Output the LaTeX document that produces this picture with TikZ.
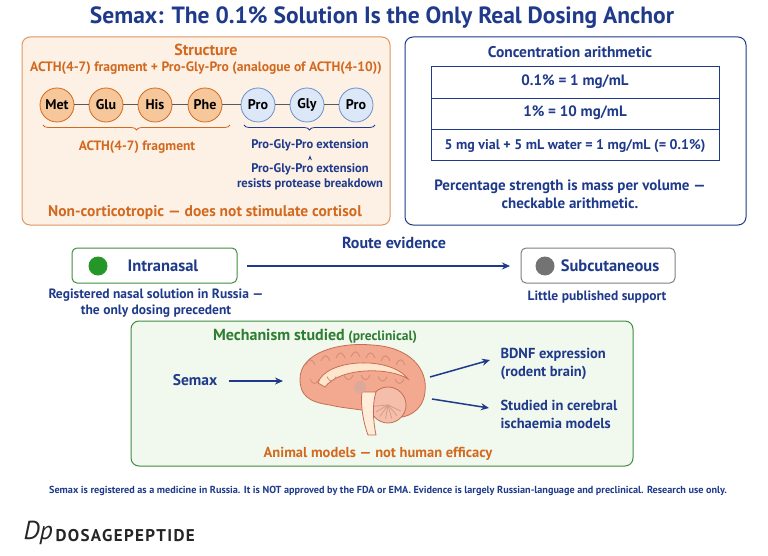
\documentclass[tikz,border=0pt]{standalone}
\usepackage{fontspec}
\setmainfont{PT Sans}
\usetikzlibrary{decorations.pathreplacing,arrows.meta}
\definecolor{navy}{HTML}{1F3A8A}
\definecolor{org}{HTML}{D2691E}
\definecolor{orgfill}{HTML}{FDF1E6}
\definecolor{aa}{HTML}{F7C79C}
\definecolor{bb}{HTML}{DCE8F8}
\definecolor{bbd}{HTML}{6C8FCB}
\definecolor{grn}{HTML}{3E8E3E}
\definecolor{grnfill}{HTML}{F1F8EE}
\definecolor{dgrn}{HTML}{2E7D32}
\definecolor{brain}{HTML}{F2A98F}
\definecolor{brainD}{HTML}{C56E55}
\newcommand{\fsz}[1]{\fontsize{#1}{#1}\selectfont}
\tikzset{
 aao/.style={circle,draw=org,fill=aa,line width=0.8pt,minimum size=34pt,inner sep=0pt,font=\bfseries\fsz{14}},
 aab/.style={circle,draw=bbd,fill=bb,line width=0.8pt,minimum size=34pt,inner sep=0pt,font=\bfseries\fsz{14}},
 panel/.style={rounded corners=8pt,line width=1pt},
 tx/.style={font=\bfseries\fontsize{14}{17}\selectfont,align=center},
 arr/.style={-{Stealth[length=8pt,width=7pt]},line width=1.5pt,navy},
}
\begin{document}
\begin{tikzpicture}[x=1pt,y=-1pt]
\useasboundingbox[fill=white] (0,0) rectangle (768,556);
\node[font=\bfseries\fsz{23.5},text=navy] (title) at (382,18) {Semax: The 0.1\% Solution Is the Only Real Dosing Anchor};
% structure
\draw[panel,draw=org!70,fill=orgfill] (22,37) rectangle (390,225);
\node[tx,text=org,font=\bfseries\fsz{16}] (st) at (206,50) {Structure};
\node[tx,text=org,font=\bfseries\fsz{13.6}] (st2) at (206,68) {ACTH(4-7) fragment + Pro-Gly-Pro (analogue of ACTH(4-10))};
\node[aao] (a1) at (57,105) {Met};
\node[aao] (a2) at (106,105) {Glu};
\node[aao] (a3) at (155,105) {His};
\node[aao] (a4) at (205,105) {Phe};
\node[aab] (a5) at (258,105) {Pro};
\node[aab] (a6) at (307,105) {Gly};
\node[aab] (a7) at (356,105) {Pro};
\foreach \a/\b in {a1/a2,a2/a3,a3/a4,a4/a5,a5/a6,a6/a7} \draw[line width=1pt,gray!70!black] (\a)--(\b);
\draw[decorate,decoration={brace,mirror,amplitude=5pt},org,line width=0.8pt] (43,125)--(230,125);
\draw[decorate,decoration={brace,mirror,amplitude=5pt},navy,line width=0.8pt] (244,125)--(375,125);
\node[tx,text=org,font=\bfseries\fsz{13.5}] (f1) at (137,147) {ACTH(4-7) fragment};
\node[tx,text=navy,font=\bfseries\fsz{12.5}] (f2) at (310,145) {Pro-Gly-Pro extension};
\node[tx,text=navy,font=\bfseries\fontsize{12.5}{15}\selectfont] (f3) at (310,177) {Pro-Gly-Pro extension\\resists protease breakdown};
\draw[-{Stealth[length=5pt]},navy,line width=1.2pt] ([yshift=1pt]f3.north) -- ([yshift=-1pt]f2.south);
\node[tx,text=org,font=\bfseries\fsz{15.5}] (nc) at (205,213) {Non-corticotropic — does not stimulate cortisol};
% concentration
\draw[panel,draw=navy,fill=white] (405,37) rectangle (746,225);
\node[tx,text=navy,font=\bfseries\fsz{15.5}] (ct) at (570,52) {Concentration arithmetic};
\draw[navy,line width=0.8pt] (431,66) rectangle (719,160) (431,98)--(719,98) (431,129)--(719,129);
\node[tx,text=navy,font=\bfseries\fsz{15}] (r1) at (575,82) {0.1\% = 1 mg/mL};
\node[tx,text=navy,font=\bfseries\fsz{15}] (r2) at (575,113) {1\% = 10 mg/mL};
\node[tx,text=navy,font=\bfseries\fsz{14}] (r3) at (575,146) {5 mg vial + 5 mL water = 1 mg/mL (= 0.1\%)};
\node[tx,text=navy,font=\bfseries\fontsize{15}{18}\selectfont] (cf) at (570,194) {Percentage strength is mass per volume —\\checkable arithmetic.};
% route
\node[tx,text=navy,font=\bfseries\fsz{16}] (re) at (394,243) {Route evidence};
\draw[rounded corners=5pt,draw=grn,line width=1pt,fill=white] (72,248) rectangle (237,283);
\fill[dgrn!80!green] (98,266) circle (9.5);
\node[tx,text=navy,font=\bfseries\fsz{16.5}] (in) at (163,266) {Intranasal};
\draw[rounded corners=5pt,draw=gray,line width=1pt,fill=white] (521,248) rectangle (675,283);
\fill[gray!90!black] (545,266) circle (9.5);
\node[tx,text=navy,font=\bfseries\fsz{16.5}] (sc) at (610,266) {Subcutaneous};
\draw[arr] (247,266) -- (510,266);
\node[tx,text=navy,font=\bfseries\fontsize{13.5}{16}\selectfont] (inn) at (156,303) {Registered nasal solution in Russia —\\the only dosing precedent};
\node[tx,text=navy,font=\bfseries\fsz{13.5}] (scn) at (597,297) {Little published support};
% mechanism
\draw[panel,draw=grn,fill=grnfill] (131,321) rectangle (633,466);
\node[tx,text=dgrn] (mt) at (315,336) {{\fsz{16}Mechanism studied} {\fsz{13.5}(preclinical)}};
\node[tx,text=navy,font=\bfseries\fsz{15.5}] (sx) at (195,380) {Semax};
% brain
\begin{scope}[line width=0.8pt,shift={(0,7)}]
\draw[brainD,fill=brain] (300,372) .. controls (300,345) and (340,335) .. (372,338) .. controls (410,340) and (428,362) .. (425,385) .. controls (423,405) and (405,412) .. (395,410) .. controls (375,403) and (345,402) .. (330,398) .. controls (308,395) and (300,388) .. (300,372) -- cycle;
\draw[brainD,fill=brain!75] (388,398) circle (18);
\foreach \r in {25,50,...,175} \draw[brainD!70] (388,398) -- ++(\r:14);
\draw[brainD,fill=orange!15] (362,385) .. controls (360,398) and (364,418) .. (368,428) -- (376,428) .. controls (373,413) and (372,398) .. (376,385) -- cycle;
\draw[brainD,fill=orange!20] (318,376) .. controls (325,352) and (390,348) .. (408,372) .. controls (390,360) and (340,360) .. (325,380) -- cycle;
\fill[brainD!60] (360,380) circle (6);
\foreach \s in {0,...,6} \draw[brainD!80] ({306+\s*15},{358-8*sin(\s*30)}) .. controls +(3,-7) and +(-3,-7) .. +(9,0);
\foreach \s in {0,...,5} \draw[brainD!80] ({310+\s*17},{372-4*sin(\s*36)}) .. controls +(3,6) and +(-3,6) .. +(9,0);
\end{scope}
\coordinate (bl) at (283,381);
\coordinate (br1) at (430,377);
\coordinate (br2) at (432,399);
\node[tx,text=navy,font=\bfseries\fontsize{14.5}{18}\selectfont,anchor=west,align=left] (bd) at (497,364) {BDNF expression\\(rodent brain)};
\node[tx,text=navy,font=\bfseries\fontsize{14.5}{18}\selectfont,anchor=west,align=left] (ci) at (497,414) {Studied in cerebral\\ischaemia models};
\draw[arr] (sx.east)++(8,1) -- (bl);
\draw[arr] (br1) -- (490,360);
\draw[arr] (br2) -- (489,408);
\node[tx,text=org,font=\bfseries\fsz{14.5}] (am) at (378,454) {Animal models — not human efficacy};
\node[tx,text=navy,font=\bfseries\fsz{10.2}] (ft) at (388,491) {Semax is registered as a medicine in Russia. It is NOT approved by the FDA or EMA. Evidence is largely Russian-language and preclinical. Research use only.};
\node[font=\fsz{26}\itshape,anchor=west,text=black!85] (lg) at (20,533) {Dp};
\node[font=\bfseries\fsz{17}\addfontfeature{LetterSpace=8},anchor=west,text=black!85] (lg2) at (52,536) {DOSAGEPEPTIDE};
\end{tikzpicture}
\end{document}
